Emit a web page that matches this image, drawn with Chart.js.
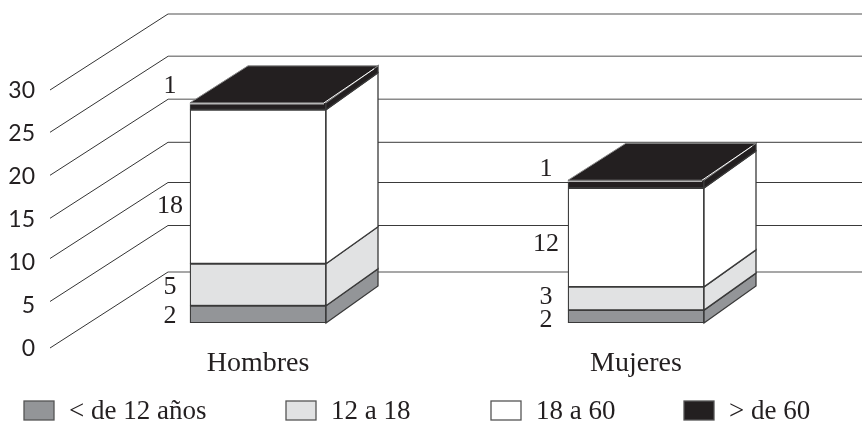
<!DOCTYPE html>
<html>
<head>
<meta charset="utf-8">
<style>
  html, body { margin: 0; padding: 0; background: #fff; }
  canvas { display: block; }
</style>
</head>
<body>
<canvas id="myChart" width="862" height="424"></canvas>
<script src="https://cdn.jsdelivr.net/npm/chart.js@4"></script>
<script>
// DATA - bar heights, printed labels are the rounded numbers
const categories = ['Hombres', 'Mujeres'];
const seriesNames = ['< de 12 años', '12 a 18', '18 a 60', '> de 60'];
const menores = [2.0, 1.5];
const jovenes = [4.9, 2.7];
const adultos = [17.9, 11.5];
const mayores = [0.8, 0.9];
const printedMenores = ['2', '2'];
const printedJovenes = ['5', '3'];
const printedAdultos = ['18', '12'];
const printedMayores = ['1', '1'];
const yTicks = [0, 5, 10, 15, 20, 25, 30];

const colors = ['#939598', '#e1e2e3', '#ffffff', '#231f20'];
const lineDark = '#3a3a3a';
const serif = '"Liberation Serif", serif';

// 3D look
const depthX = 52, depthY = -37;
const wallFrontX = 50, wallBackX = 168, wallFrontDy = 25, wallBackDy = -51;
const wallColors = ['#8a8a8a', '#3a3a3a', '#3a3a3a', '#3a3a3a', '#8a8a8a', '#8a8a8a', '#8a8a8a'];
// the wall lines in the original are a little uneven
const wallNudge = [0, -3.5, -3.5, -0.7, -0.7, -0.7, 0];

// vertical nudge of the printed labels from the middle of their segment
const labelNudge = [[2, 4], [2, -1], [19, 7], [-20, -15]];
const legendX = [24, 286, 491, 684];

function poly(ctx, pts, fill, stroke, lw) {
    ctx.beginPath();
    pts.forEach((p, i) => i ? ctx.lineTo(p[0], p[1]) : ctx.moveTo(p[0], p[1]));
    ctx.closePath();
    ctx.fillStyle = fill;
    ctx.fill();
    if (stroke) {
        ctx.strokeStyle = stroke;
        ctx.lineWidth = lw || 1;
        ctx.stroke();
    }
}

const wallsAndSides = {
    id: 'wallsAndSides',
    beforeDatasetsDraw(chart) {
        const ctx = chart.ctx, y = chart.scales.y;
        ctx.save();

        // WALL LINES + Y LABELS
        yTicks.forEach((t, i) => {
            const py = y.getPixelForValue(t);
            const ly = py + wallNudge[i];
            ctx.strokeStyle = '#333';
            ctx.lineWidth = 1;
            ctx.beginPath();
            ctx.moveTo(wallFrontX, ly + wallFrontDy);
            ctx.lineTo(wallBackX, ly + wallBackDy);
            ctx.stroke();
            ctx.strokeStyle = wallColors[i];
            ctx.lineWidth = wallColors[i] === '#8a8a8a' ? 1.6 : 1;
            ctx.beginPath();
            ctx.moveTo(wallBackX, ly + wallBackDy);
            ctx.lineTo(chart.width, ly + wallBackDy);
            ctx.stroke();

            ctx.fillStyle = '#231f20';
            ctx.font = '23px Lato';
            ctx.textAlign = 'right';
            ctx.textBaseline = 'middle';
            ctx.fillText(String(t), 35, py + wallFrontDy + 1);
        });

        // SIDE + TOP FACES
        chart.data.datasets.forEach((ds, d) => {
            chart.getDatasetMeta(d).data.forEach(bar => {
                const r = bar.x + bar.width / 2, l = bar.x - bar.width / 2;
                poly(ctx, [[r, bar.base], [r + depthX, bar.base + depthY], [r + depthX, bar.y + depthY], [r, bar.y]], colors[d], lineDark, 1.3);
                if (d === chart.data.datasets.length - 1) {
                    poly(ctx, [[l, bar.y], [l + depthX + 6, bar.y + depthY], [r + depthX, bar.y + depthY], [r, bar.y]], colors[d], '#8a8a8a', 1);
                }
            });
        });
        ctx.restore();
    },
    afterDatasetsDraw(chart) {
        const ctx = chart.ctx;
        const printed = [printedMenores, printedJovenes, printedAdultos, printedMayores];
        ctx.save();

        // light edges round the black top
        const topMeta = chart.getDatasetMeta(3);
        topMeta.data.forEach(bar => {
            const r = bar.x + bar.width / 2, l = bar.x - bar.width / 2;
            ctx.strokeStyle = '#b5b5b5';
            ctx.lineWidth = 1.5;
            ctx.beginPath();
            ctx.moveTo(l, bar.y + 1);
            ctx.lineTo(r - 2, bar.y + 1);
            ctx.stroke();
            ctx.strokeStyle = '#ffffff';
            ctx.lineWidth = 1;
            ctx.beginPath();
            ctx.moveTo(r - 2, bar.y);
            ctx.lineTo(r + depthX - 4, bar.y + depthY + 3);
            ctx.stroke();
        });

        // PRINTED VALUES
        ctx.fillStyle = '#231f20';
        ctx.font = '26px ' + serif;
        ctx.textAlign = 'center';
        ctx.textBaseline = 'middle';
        chart.data.datasets.forEach((ds, d) => {
            chart.getDatasetMeta(d).data.forEach((bar, c) => {
                const l = bar.x - bar.width / 2;
                ctx.fillText(printed[d][c], l - 20 - c * 2, (bar.y + bar.base) / 2 + labelNudge[d][c]);
            });
        });

        // LEGEND
        chart.data.datasets.forEach((ds, d) => {
            const x = legendX[d];
            ctx.fillStyle = colors[d];
            ctx.fillRect(x, 401, 30, 19);
            ctx.strokeStyle = '#555';
            ctx.lineWidth = 1.3;
            ctx.strokeRect(x, 401, 30, 19);
            ctx.fillStyle = '#231f20';
            ctx.font = '27px ' + serif;
            ctx.textAlign = 'left';
            ctx.fillText(ds.label, x + 45, 412);
        });
        ctx.restore();
    }
};

const ctx = document.getElementById('myChart').getContext('2d');

const seriesValues = [menores, jovenes, adultos, mayores];

const myChart = new Chart(ctx, {
    type: 'bar',
    data: {
        labels: categories,
        datasets: seriesNames.map((name, i) => ({
            label: name,
            data: seriesValues[i],
            backgroundColor: colors[i],
            borderColor: lineDark,
            borderWidth: 1.3,
            borderSkipped: false,
            barThickness: 136
        }))
    },
    options: {
        responsive: false,
        animation: false,
        events: [],
        layout: {
            padding: { top: 65, left: 69, right: 37, bottom: 0 }
        },
        plugins: {
            legend: { display: false },
            tooltip: { enabled: false }
        },
        scales: {
            x: {
                stacked: true,
                grid: { display: false },
                border: { display: false },
                afterFit(scale) { scale.height = 101; },
                ticks: {
                    color: '#231f20',
                    padding: 16,
                    maxRotation: 0,
                    font: { family: serif, size: 28 }
                }
            },
            y: {
                stacked: true,
                display: false,
                min: 0,
                max: 30,
                ticks: { stepSize: 5 }
            }
        }
    },
    plugins: [wallsAndSides]
});
</script>
</body>
</html>
